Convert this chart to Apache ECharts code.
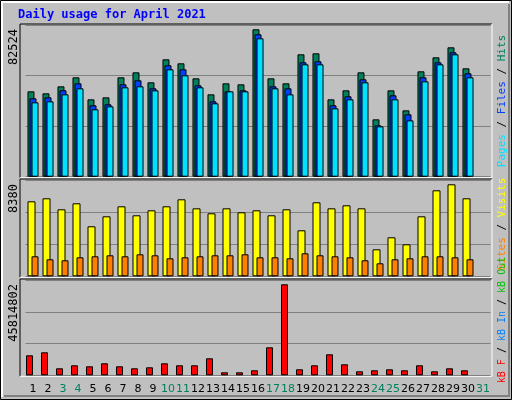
<!DOCTYPE html>
<html>
<head>
<meta charset="utf-8">
<script src="https://cdn.jsdelivr.net/npm/echarts@6/dist/echarts.min.js"></script>
<style>html,body{margin:0;padding:0;background:#c0c0c0}#chart{width:512px;height:400px}</style>
</head>
<body>
<div id="chart"></div>
<script>
const days = ['1','2','3','4','5','6','7','8','9','10','11','12','13','14','15','16','17','18','19','20','21','22','23','24','25','26','27','28','29','30','31'];
const weekend = ['3','4','10','11','17','18','24','25','31'];
const hits = [47795,46675,50596,55637,43314,44435,55637,58437,52836,65718,63478,55076,46115,52276,51716,82524,55076,52276,68519,69079,43314,48355,58437,32112,48355,37153,58997,66839,72439,60678,null];
const files = [43874,44435,48355,52276,39954,40514,51716,53956,49475,62358,60117,51156,42194,47795,48355,79720,50596,49475,64038,64598,39954,44995,54516,28752,45555,34913,55637,64038,69639,57877,null];
const pages = [41634,42194,46115,49475,37714,39394,50036,50596,48355,60117,56757,50036,41074,47795,47795,77480,49475,46115,62918,62918,38274,43314,52836,28192,43314,31552,53396,62918,68519,55637,null];
const visits = [6831,7104,6102,6649,4554,5465,6376,5556,6011,6376,7013,6193,5738,6193,5829,6011,5556,6102,4190,6740,6193,6467,6193,2459,3552,2915,5465,7833,8380,7104,null];
const sites = [1822,1548,1457,1731,1822,1913,1822,2004,1913,1639,1731,1822,1913,1913,2004,1731,1731,1639,2095,1913,1822,1731,1457,1184,1548,1639,1822,1822,1731,1548,null];
const kbytes = [10069200,11579580,3524220,5034600,4531140,6041520,4531140,3524220,4027680,6041520,5034600,5034600,8558820,1510380,1510380,2517300,14096880,45814802,3020760,5034600,10572660,5538060,2013840,2517300,3020760,2517300,5034600,2013840,3524220,2517300,null];
const maxLabels = ['82524', '8380', '45814802'];

const chart = echarts.init(document.getElementById('chart'));
const mono = 'DejaVu Sans Mono';
const bar = (name, data, color, w, xi, gap) => ({
    name, type: 'bar', data, xAxisIndex: xi, yAxisIndex: xi,
    barWidth: w, barGap: gap,
    itemStyle: { color, borderColor: '#000', borderWidth: 1 },
    animation: false
});
const grids = [
    { left: 25.5, width: 465, top: 25, height: 151.7 },
    { left: 25.5, width: 465, top: 180, height: 96.3 },
    { left: 25.5, width: 465, top: 280, height: 95.3 }
];
const ymax = [84932, 8772, 47979770];
const panel = (g) => ({
    type: 'group', silent: true, children: [
        { type: 'line', shape: { x1: 20, y1: g.top - 1, x2: 492, y2: g.top - 1 }, style: { stroke: '#000' } },
        { type: 'line', shape: { x1: 20, y1: g.top - 1, x2: 20, y2: g.top + g.height + 1 }, style: { stroke: '#000' } },
        { type: 'line', shape: { x1: 492, y1: g.top - 1, x2: 492, y2: g.top + g.height + 1 }, style: { stroke: '#fff' } },
        { type: 'line', shape: { x1: 20, y1: g.top + g.height + 1, x2: 492, y2: g.top + g.height + 1 }, style: { stroke: '#fff' } }
    ]
});
const sideLabel = (y, size, parts) => ({
    type: 'text', x: 502, y, rotation: Math.PI / 2, silent: true,
    style: {
        text: parts.map((p, i) => '{c' + i + '|' + p[0] + '}').join('{s| / }'),
        rich: Object.assign({ s: { fill: '#000', font: size + 'px ' + mono } },
            Object.fromEntries(parts.map((p, i) => ['c' + i, { fill: p[1], font: size + 'px ' + mono }]))),
        align: 'center', verticalAlign: 'middle'
    }
});

chart.setOption({
    backgroundColor: '#c0c0c0',
    animation: false,
    grid: grids,
    xAxis: grids.map((g, i) => ({
        type: 'category', gridIndex: i, data: days,
        axisLine: { show: false }, axisTick: { show: false },
        axisLabel: {
            show: i === 2, interval: 0, margin: 8, fontFamily: 'DejaVu Sans', fontSize: 11,
            color: (v) => weekend.includes(v) ? '#00805c' : '#000'
        }
    })),
    yAxis: grids.map((g, i) => ({
        type: 'value', gridIndex: i, min: 0, max: ymax[i], interval: ymax[i] / 3,
        axisLabel: { show: false }, axisLine: { show: false }, axisTick: { show: false },
        splitLine: { lineStyle: { color: '#808080' } }
    })),
    series: [
        bar('Hits', hits, '#00805c', 7, 0, '-71%'),
        bar('Files', files, '#0040ff', 7, 0, '-71%'),
        bar('Pages', pages, '#00e0ff', 7, 0, '-71%'),
        bar('Visits', visits, '#ffff00', 8, 1, '-50%'),
        bar('Sites', sites, '#ff8000', 7, 1, '-50%'),
        bar('kB F', kbytes, '#ff0000', 7, 2, '0%'),
        bar('kB In', [], '#0080ff', 7, 2, '0%')
    ],
    graphic: [
        { type: 'rect', shape: { x: 0.5, y: 0.5, width: 511, height: 399 }, style: { fill: 'none', stroke: '#000' }, silent: true },
        { type: 'polyline', shape: { points: [[2, 397], [2, 2], [509, 2]] }, style: { fill: 'none', stroke: '#fff', lineWidth: 2 }, silent: true },
        { type: 'polyline', shape: { points: [[4, 396], [509, 396], [509, 4]] }, style: { fill: 'none', stroke: '#808080', lineWidth: 2 }, silent: true },
        { type: 'text', x: 18, y: 15, silent: true, style: { text: 'Daily usage for April 2021', fill: '#0000ff', font: 'bold 12px ' + mono, verticalAlign: 'middle' } },
        panel(grids[0]), panel(grids[1]), panel(grids[2]),
        ...maxLabels.map((t, i) => ({
            type: 'text', x: 14, y: grids[i].top + 4, rotation: Math.PI / 2, silent: true,
            style: { text: t, fill: '#000', font: '12px ' + mono, align: 'right', verticalAlign: 'middle' }
        })),
        sideLabel(101, 11, [['Pages', '#00e0ff'], ['Files', '#0040ff'], ['Hits', '#00805c']]),
        sideLabel(224, 11, [['Sites', '#ff8000'], ['Visits', '#ffff00']]),
        sideLabel(320, 10, [['kB F', '#ff0000'], ['kB In', '#0080ff'], ['kB Out', '#00c000']])
    ]
});
</script>
</body>
</html>
